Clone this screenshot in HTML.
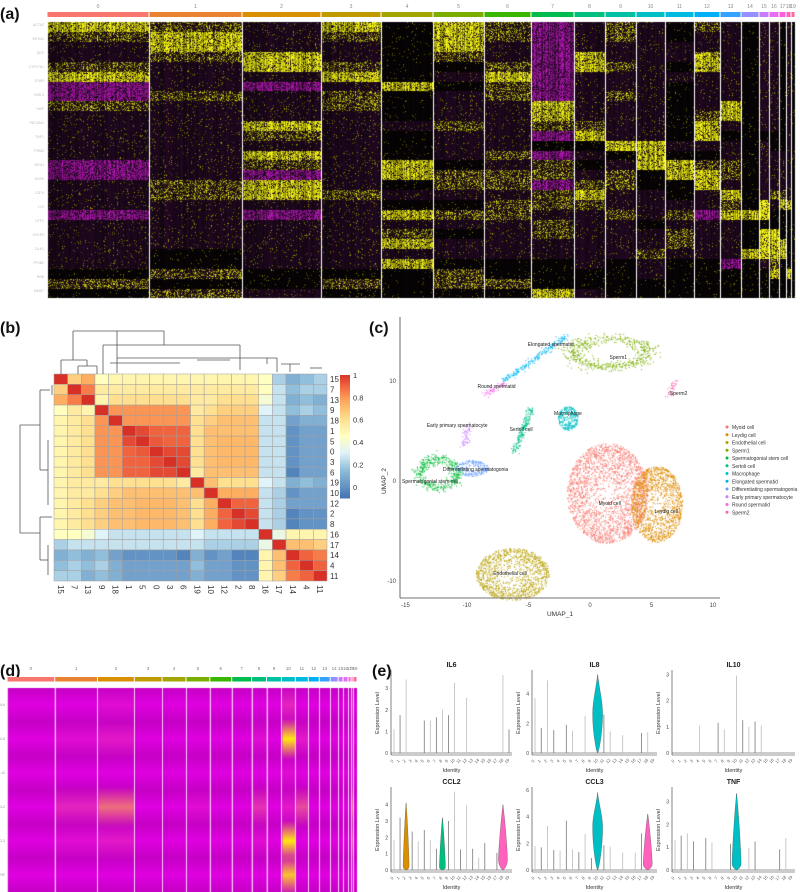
<!DOCTYPE html>
<html><head><meta charset="utf-8">
<style>
html,body{margin:0;padding:0;background:#fff;}
#root{position:relative;width:800px;height:892px;overflow:hidden;background:#fff;font-family:"Liberation Sans",sans-serif;}
canvas,svg{position:absolute;left:0;top:0;}
.lbl{font-weight:bold;font-size:16px;fill:#111;}
</style></head>
<body>
<div id="root">
<canvas id="cA" width="800" height="892"></canvas>
<svg id="sv" width="800" height="892"></svg>
</div>
<script>
// ---------- DATA ----------
const clusterIds = ['0','1','2','3','4','5','6','7','8','9','10','11','12','13','14','15','16','17','18','19'];
const hue20 = ['#F8766D','#EA8331','#D89000','#C09B00','#A3A500','#7CAE00','#39B600','#00BB4E','#00BF7D','#00C1A3','#00BFC4','#00BAE0','#00B0F6','#35A2FF','#9590FF','#C77CFF','#E76BF3','#FA62DB','#FF62BC','#FF6C91'];
const aClusterSizes = [102,93,79,60,52,51,47,43,31,31,29,29,26,21,18,10,10,7,5,4];
const aBands = [
"YoppoYmmopppppmmpppmpppppkok","oYYopppoppppppppoopppppkkoko","pppYYpmpppYopYomYYpmpppppkkp",
"YoppoYpooppppppppopppppppkok","kkkkkkYkkkpkkkYYkpkYpoYpYkkk","YYYokpkpppopppkoopkopkppkook",
"ooppoYoopppppopoopooppppkkok","mmmmmmmmYYomkmoomoopooppkkkY","pppYYpppppoYkpkpoYoppppppkkp",
"ooppoppoppppYkpooppoppppkkkk","ppppppppppppYYYkkpppkppoppkk","kkppkpkkkkkkpkYYkkpopoopkkkk",
"oppYYppppoYYpkoYYppmppppkkkk","ppppppppYYpkppoopYoYppppmkkk","kkkkkkkkkkkkkkkkkkkYkkkYkkkk",
"pppppppppppkppppppYYkYYYpkkk","pppppppppppkkppppopkkYYYoYkk","kkkkkkkkkkkkkppppoYkkkYYkkkk",
"ppppppppppppppppppYkkkkkkYkk","kkkkkkkkkkkkkkkkkkkkkkkkkkkk"];
const bOrder = ['15','7','13','9','18','1','5','0','3','6','19','10','12','2','8','16','17','14','4','11'];
const bMatrix = [
[1,.65,.75,.45,.5,.5,.5,.5,.5,.5,.5,.5,.5,.5,.5,.45,.2,.1,.15,.2],
[.65,1,.85,.55,.55,.55,.55,.55,.55,.55,.55,.55,.55,.55,.55,.45,.25,.15,.2,.2],
[.75,.85,1,.5,.6,.6,.6,.6,.6,.6,.55,.55,.6,.6,.6,.4,.25,.1,.15,.1],
[.45,.55,.5,1,.8,.8,.8,.8,.8,.8,.55,.6,.65,.65,.65,.3,.25,.15,.2,.15],
[.5,.55,.6,.8,1,.8,.8,.8,.8,.8,.6,.65,.7,.7,.7,.25,.25,.05,.1,.1],
[.5,.55,.6,.8,.8,1,.95,.9,.9,.9,.6,.7,.7,.7,.7,.25,.25,0,.05,.05],
[.5,.55,.6,.8,.8,.95,1,.92,.9,.9,.6,.7,.72,.72,.72,.25,.25,0,.05,.05],
[.5,.55,.6,.8,.8,.9,.92,1,.95,.95,.6,.7,.72,.72,.72,.25,.25,0,.05,.05],
[.5,.55,.6,.8,.8,.9,.9,.95,1,.95,.6,.7,.72,.72,.72,.25,.25,0,.05,.05],
[.5,.55,.6,.8,.8,.9,.9,.95,.95,1,.55,.7,.7,.7,.7,.25,.25,-.05,.05,.05],
[.5,.55,.55,.55,.6,.6,.6,.6,.6,.55,1,.7,.6,.6,.6,.3,.25,.1,.15,.1],
[.5,.55,.55,.6,.65,.7,.7,.7,.7,.7,.7,1,.75,.75,.75,.25,.2,0,.05,.05],
[.5,.55,.6,.65,.7,.7,.72,.72,.72,.7,.6,.75,1,.9,.9,.25,.2,.05,.05,.05],
[.5,.55,.6,.65,.7,.7,.72,.72,.72,.7,.6,.75,.9,1,.95,.25,.2,-.05,0,0],
[.5,.55,.6,.65,.7,.7,.72,.72,.72,.7,.6,.75,.9,.95,1,.25,.2,-.05,0,0],
[.45,.45,.4,.3,.25,.25,.25,.25,.25,.25,.3,.25,.25,.25,.25,1,.35,.5,.5,.5],
[.2,.25,.25,.25,.25,.25,.25,.25,.25,.25,.25,.2,.2,.2,.2,.35,1,.7,.7,.65],
[.1,.15,.1,.15,.05,0,0,0,0,-.05,.1,0,.05,-.05,-.05,.5,.7,1,.9,.85],
[.15,.2,.15,.2,.1,.05,.05,.05,.05,.05,.15,.05,.05,0,0,.5,.7,.9,1,.9],
[.2,.2,.1,.15,.1,.05,.05,.05,.05,.05,.1,.05,.05,0,0,.5,.65,.85,.9,1]];
const bTicks = [0,0.2,0.4,0.6,0.8,1];
const cNames = ['Myoid cell','Leydig cell','Endothelial cell','Sperm1','Spermatogonial stem cell','Sertoli cell','Macrophage','Elongated spermatid','Differentiating spermatogonia','Early primary spermatocyte','Round spermatid','Sperm2'];
const cColors = ['#F8766D','#DE8C00','#B79F00','#7CAE00','#00BA38','#00C08B','#00BFC4','#00B4F0','#619CFF','#C77CFF','#F564E3','#FF64B0'];
const cShape = ['blob','blob','blob','ring','ring','line','blob','line','blob','line','line','line'];
const cX = [1.4,5.4,-6.3,1.6,-12.4,-6.2,-1.8,-7,-9.6,-10.3,-8.5,6.4];
const cY = [-1.2,-2.3,-9.3,12.9,0.8,3,6.3,10.1,1.3,3.5,8.7,8.5];
const cA = [3.3,2.1,3,3.6,1.8,-4.8,0.8,-2,1.3,-9.9,-7,6.9];
const cB = [5,3.8,2.6,1.7,1.7,7.3,1.2,14.5,0.8,5.8,9.8,10];
const cCount = [2200,1300,1100,600,450,200,280,220,200,60,60,40];
const cLabelX = [1.6,6.2,-6.5,2.3,-13,-5.6,-1.8,-3.2,-9.3,-10.8,-7.6,7.2];
const cLabelY = [-2.4,-3.2,-9.4,12.2,-0.2,5,6.6,13.5,1,5.4,9.3,8.6];
const cXTicks = [-15,-10,-5,0,5,10];
const cYTicks = [-10,0,10];
const dGenes = ['IL6','IL8','IL10','CCL2','CCL3','TNF'];
const dSizes = [48,43,37,28,24,24,22,20,15,15,14,13,11,11,8,5,5,3,2,4];
const dMeans = [
[0,0,.05,0,0,0,0,0,0,0,.15,0,0,0,0,0,0,0,.1,0],
[0,.05,.1,0,0,0,0,0,.05,0,.95,.1,0,0,0,0,0,0,0,0],
[0,0,0,0,0,0,0,0,0,0,.05,0,0,0,0,0,0,0,0,0],
[0,.15,.45,0,0,.05,0,0,.2,0,.1,.3,0,0,0,0,0,0,.4,0],
[0,.05,.1,0,0,0,0,0,.05,0,.95,0,0,0,0,0,0,0,.3,0],
[0,0,0,0,0,0,0,0,0,0,.8,0,0,0,0,0,0,0,0,0]];
const eGenes = ['IL6','IL8','IL10','CCL2','CCL3','TNF'];
const eMax = [
[1.1,1.75,3.4,0,0,1.5,1.5,1.65,2,1.75,3.25,0,2.55,0,0,0,0,0,3.6,1.1],
[3.7,1.7,4.9,1.55,0,1.9,1.5,0,2.5,0,5.3,2.6,1.45,0,1.2,0,0,1.35,1.4,0],
[0,0,0,0,1.05,0,0,1.15,0.9,0,2.95,1.25,1.0,1.2,1.05,0,0,0,0,0],
[1.85,3.2,4.1,2.35,1.75,2.45,1.85,1.3,3.2,3.0,4.8,1.25,3.95,1.3,0.75,1.65,0,1.05,4.0,0],
[1.8,1.7,3.3,1.5,1.45,3.7,1.55,1.35,2.7,0.9,5.8,1.85,1.75,0,1.3,0,1.3,2.75,4.2,0],
[1.3,1.5,1.6,1.25,0,1.4,1.2,0,0,1.15,3.35,0,0.95,1.25,0,0,0,0.9,1.4,0]];
const eViolinGene = [1,4,4,3,3,3,5];
const eViolinCluster = [10,10,18,2,8,18,10];
const eViolinWidth = [5,5,4.5,3,3,4.5,4.5];
const eViolinPeak = [0.5,0.55,0.1,0.05,0.05,0.15,0.08];
const eTicks = [[0,1,2,3],[0,2,4],[0,1,2,3],[0,1,2,3,4],[0,2,4,6],[0,1,2,3]];
const eScale = [3.7,5.4,3.05,4.9,6,3.5];

const NS='http://www.w3.org/2000/svg';
const sv=document.getElementById('sv');
function mk(tag,attrs,parent){const e=document.createElementNS(NS,tag);for(const k in attrs)e.setAttribute(k,attrs[k]);(parent||sv).appendChild(e);return e;}
function txt(x,y,s,attrs,parent){const e=mk('text',Object.assign({x:x,y:y,'font-family':'Liberation Sans, sans-serif'},attrs||{}),parent);e.textContent=s;return e;}
let seed=12345;function rnd(){seed|=0;seed=seed+0x6D2B79F5|0;let t=Math.imul(seed^seed>>>15,1|seed);t=t+Math.imul(t^t>>>7,61|t)^t;return((t^t>>>14)>>>0)/4294967296;}
function gauss(){return Math.sqrt(-2*Math.log(rnd()+1e-9))*Math.cos(2*Math.PI*rnd());}
const ctx=document.getElementById('cA').getContext('2d');

let t;
t=txt(0,19,'(a)',{class:'lbl'});
t=txt(0,333,'(b)',{class:'lbl'});
t=txt(369,333,'(c)',{class:'lbl'});
t=txt(0,676,'(d)',{class:'lbl'});
t=txt(372,676,'(e)',{class:'lbl'});

// ---------- panel a ----------
(function(){
  const x0=47,x1=795,y0=22,y1=298;
  const tot=aClusterSizes.reduce((a,b)=>a+b,0);
  const W=x1-x0;
  const img=ctx.createImageData(W,y1-y0);
  const bandH=(y1-y0)/28;
  let acc=0;const bounds=[];
  for(let c=0;c<20;c++){const s=Math.round(x0+acc/tot*W);acc+=aClusterSizes[c];const e=Math.round(x0+acc/tot*W);bounds.push([s,e]);}
  const Yc=[225,225,20],Dk=[30,8,30],Mg=[150,20,150];
  for(let c=0;c<20;c++){
    const [s,e]=bounds[c];
    for(let x=s;x<e;x++){
      const colN=rnd()*0.6+0.6;
      for(let y=y0;y<y1;y++){
        const b=Math.min(27,Math.floor((y-y0)/bandH));
        const ch=aBands[c][b]||'p';
        let col,f=colN*(0.75+rnd()*0.4);
        const r=rnd();
        if(ch==='Y'){col=r<0.72?Yc:(r<0.85?[120,110,15]:Dk);}
        else if(ch==='o'){col=r<0.28?[190,190,20]:(r<0.55?[70,60,10]:Dk);}
        else if(ch==='m'){col=r<0.75?Mg:Dk;}
        else if(ch==='k'){col=r<0.03?[120,120,0]:[8,4,6];}
        else {col=r<0.05?[130,130,0]:Dk;}
        const i=((y-y0)*W+(x-x0))*4;
        img.data[i]=Math.min(255,col[0]*f);img.data[i+1]=Math.min(255,col[1]*f);img.data[i+2]=Math.min(255,col[2]*f);img.data[i+3]=255;
      }
    }
  }
  ctx.putImageData(img,x0,y0);
  const g=mk('g',{});
  bounds.forEach((b,c)=>{
    ctx.fillStyle='#fff';ctx.fillRect(b[0],y0,1,y1-y0);
    const r=mk('rect',{x:b[0]+0.5,y:12,width:Math.max(1,b[1]-b[0]-1),height:5,fill:hue20[c]},g);
    
    const l=txt((b[0]+b[1])/2,8,clusterIds[c],{'font-size':5,fill:'#888','text-anchor':'middle'},g);
    
  });
  const gl=mk('g',{});
  const genes=['ACTA2','MYH11','DES','CYP17A1','STAR','INSL3','VWF','PECAM1','TNP1','PRM2','DDX4','SOX9','CD74','LYZ','UTF1','SYCP3','DLK1','TPSB2','HBB','MKI67'];
  for(let i=0;i<genes.length;i++){txt(44,26+i*14,genes[i],{'font-size':3.5,fill:'#bbb','text-anchor':'end'},gl);}
})();

// ---------- panel b ----------
function cmapB(v){
  const stops=[[-0.1,[69,117,180]],[0.15,[145,191,219]],[0.3,[224,243,248]],[0.45,[255,255,191]],[0.6,[254,224,144]],[0.75,[253,174,97]],[0.88,[244,109,67]],[1,[215,48,39]]];
  for(let i=1;i<stops.length;i++){if(v<=stops[i][0]){const a=stops[i-1],b=stops[i];const f=(v-a[0])/(b[0]-a[0]);return 'rgb('+a[1].map((c,j)=>Math.round(c+(b[1][j]-c)*f)).join(',')+')';}}
  return 'rgb(215,48,39)';
}
(function(){
  const x0=54,y0=374,cw=13.65,ch=10.35;
  const g=mk('g',{});
  const xs=i=>x0+i*cw, ys=i=>y0+i*ch;
  for(let r=0;r<20;r++)for(let c=0;c<20;c++){
    const e=mk('rect',{x:xs(c),y:ys(r),width:cw,height:ch,fill:cmapB(bMatrix[r][c]),stroke:'#a0a0a0','stroke-width':0.5},g);
    
  }
  for(let i=0;i<20;i++){
    const a=txt(xs(20)+3,ys(i)+ch/2+3,bOrder[i],{'font-size':8,fill:'#333'},g);
    const bx=xs(i)+cw/2-3,by=ys(20)+4;
    const b=txt(bx,by,bOrder[i],{'font-size':8,fill:'#333',transform:'rotate(90 '+bx+' '+by+')'},g);
  }
  const d=mk('g',{stroke:'#555','stroke-width':0.8,fill:'none'});
  const top=[[117,373,117,358],[117,358,277,358],[277,358,277,372],[117,331,117,358],[73,331,164,331],[73,331,73,360],[164,331,164,345],[61,360,87,360],[61,360,61,374],[87,360,87,366],[78,366,97,366],[78,366,78,374],[97,366,97,374],[164,345,103,345],[164,345,240,345],[103,345,103,374],[240,345,240,370],[110,363,180,363],[197,360,230,360],[267,358,267,364],[281,364,300,364],[290,364,290,372],[310,368,322,368]];
  top.forEach(s=>mk('line',{x1:s[0],y1:s[1],x2:s[2],y2:s[3]},d));
  const lefts=[[20,425,20,533],[20,425,40,425],[20,533,40,533],[40,390,40,470],[40,390,50,390],[40,470,48,470],[48,440,48,505],[40,517,40,560],[40,517,52,517],[40,560,48,560],[48,545,48,575],[52,385,52,395]];
  lefts.forEach(s=>mk('line',{x1:s[0],y1:s[1],x2:s[2],y2:s[3]},d));
  const cb=mk('g',{});
  const cbTop=375,cbBot=498,vmin=-0.1,vmax=1;
  const cy=v=>cbBot-(v-vmin)/(vmax-vmin)*(cbBot-cbTop);
  for(let i=0;i<60;i++){const v=vmin+(vmax-vmin)*i/60;mk('rect',{x:340,y:cy(v+(vmax-vmin)/60),width:10,height:(cbBot-cbTop)/60+0.5,fill:cmapB(v)},cb);}
  bTicks.forEach(v=>{const e=txt(353,cy(v)+3,String(v),{'font-size':7.5,fill:'#333'},cb);});
})();

// ---------- panel c ----------
(function(){
  const px=x=>590+x*12.3, py=y=>481-y*10;
  for(let k=0;k<cNames.length;k++){
    ctx.fillStyle=cColors[k];
    for(let n=0;n<cCount[k];n++){
      let x,y;
      if(cShape[k]==='blob'){const a=rnd()*2*Math.PI,r=Math.pow(rnd(),0.35);x=cX[k]+cA[k]*r*Math.cos(a);y=cY[k]+cB[k]*r*Math.sin(a);}
      else if(cShape[k]==='ring'){const a=rnd()*2*Math.PI,r=0.85+0.15*gauss();x=cX[k]+cA[k]*r*Math.cos(a);y=cY[k]+cB[k]*r*Math.sin(a);}
      else{const f=rnd();x=cX[k]+(cA[k]-cX[k])*f+gauss()*0.15;y=cY[k]+(cB[k]-cY[k])*f+gauss()*0.15;}
      ctx.fillRect(px(x),py(y),1,1);
    }
  }
  const g=mk('g',{});
  const ya=mk('line',{x1:400,y1:317,x2:400,y2:598,stroke:'#444','stroke-width':0.8},g);
  const xa=mk('line',{x1:400,y1:598,x2:720,y2:598,stroke:'#444','stroke-width':0.8},g);
  cYTicks.forEach(v=>{const e=txt(396,py(v)+2,String(v),{'font-size':6,fill:'#444','text-anchor':'end'},g);});
  cXTicks.forEach(v=>{const e=txt(px(v),607,String(v),{'font-size':6,fill:'#444','text-anchor':'middle'},g);});
  let e=txt(560,616,'UMAP_1',{'font-size':6.5,fill:'#333','text-anchor':'middle'},g);
  e=txt(386,481,'UMAP_2',{'font-size':6.5,fill:'#333','text-anchor':'middle',transform:'rotate(-90 386 481)'},g);
  for(let k=0;k<cNames.length;k++){
    const l=txt(px(cLabelX[k]),py(cLabelY[k]),cNames[k],{'font-size':5,fill:'#222','text-anchor':'middle'},g);
    const le=mk('g',{},g);
    mk('circle',{cx:727,cy:427+k*7.75,r:1.5,fill:cColors[k]},le);
    txt(732,429+k*7.75,cNames[k],{'font-size':5,fill:'#333'},le);
  }
})();

// ---------- panel d ----------
(function(){
  const x0=7,x1=357,y0=688,y1=892,rowH=(y1-y0)/6;
  const tot=dSizes.reduce((a,b)=>a+b,0);
  let acc=0;const b=[];
  for(let c=0;c<20;c++){const s=x0+acc/tot*(x1-x0);acc+=dSizes[c];b.push([s,x0+acc/tot*(x1-x0)]);}
  const g=mk('g',{});
  for(let c=0;c<20;c++){
    const [s,e]=b[c];
    for(let r=0;r<6;r++){
      const gr=ctx.createLinearGradient(0,y0+r*rowH,0,y0+(r+1)*rowH);
      gr.addColorStop(0,'#c600c6');gr.addColorStop(0.5,'#e000e0');gr.addColorStop(1,'#c600c6');
      ctx.fillStyle=gr;ctx.fillRect(s,y0+r*rowH,e-s,rowH);
    }
    for(let r=0;r<6;r++){
      const v=dMeans[r][c];if(v<=0)continue;
      const cy=y0+(r+0.5)*rowH;
      const gr=ctx.createLinearGradient(0,cy-rowH*0.6,0,cy+rowH*0.6);
      gr.addColorStop(0,'rgba(255,245,0,0)');gr.addColorStop(0.5,'rgba(255,245,0,'+v+')');gr.addColorStop(1,'rgba(255,245,0,0)');
      ctx.fillStyle=gr;ctx.fillRect(s+1,cy-rowH*0.6,e-s-1,rowH*1.2);
    }
    ctx.fillStyle='#f4d0f4';ctx.fillRect(Math.round(s),y0,1,y1-y0);
    const r=mk('rect',{x:s+0.5,y:677,width:Math.max(1,e-s-1),height:4.5,fill:hue20[c]},g);
    const l=txt((s+e)/2,670,clusterIds[c],{'font-size':4.5,fill:'#777','text-anchor':'middle'},g);
  }
  dGenes.forEach((n,r)=>{const l=txt(5,y0+(r+0.5)*rowH+1,n,{'font-size':3.5,fill:'#999','text-anchor':'end'},g);});
})();

// ---------- panel e ----------
(function(){
  const cols=[[391,512],[532,657],[672,795]];
  const rows=[[673,753],[790,870]];
  for(let p=0;p<6;p++){
    const [x0,x1]=cols[p%3],[yt,yb]=rows[Math.floor(p/3)];
    const g=mk('g',{});
    const sy=v=>yb-v/eScale[p]*(yb-yt);
    const sx=i=>x0+3+i*(x1-x0-6)/19;
    let e=txt((x0+x1)/2,yt-6,eGenes[p],{'font-size':7,'font-weight':'bold',fill:'#222','text-anchor':'middle'},g);
    e=mk('line',{x1:x0,y1:yt-3,x2:x0,y2:yb+2,stroke:'#333','stroke-width':0.6},g);
    e=mk('line',{x1:x0,y1:yb+2,x2:x1,y2:yb+2,stroke:'#333','stroke-width':0.6},g);
    eTicks[p].forEach(v=>{const tt=txt(x0-3,sy(v)+2,String(v),{'font-size':5,fill:'#444','text-anchor':'end'},g);});
    const ym=(yt+yb)/2;
    e=txt(x0-12,ym,'Expression Level',{'font-size':5.5,fill:'#333','text-anchor':'middle',transform:'rotate(-90 '+(x0-12)+' '+ym+')'},g);
    e=txt((x0+x1)/2,yb+19,'Identity',{'font-size':5.5,fill:'#333','text-anchor':'middle'},g);
    mk('line',{x1:x0,y1:yb,x2:x1,y2:yb,stroke:'#333','stroke-width':0.5},g);
    for(let i=0;i<20;i++){
      const v=eMax[p][i];
      if(v>0){const l=mk('line',{x1:sx(i),y1:yb,x2:sx(i),y2:sy(v),stroke:(i%2?'#777':'#bbb'),'stroke-width':0.8},g);}
      const tx=sx(i)-1,ty=yb+9;
      const tl=txt(tx,ty,clusterIds[i],{'font-size':4.2,fill:'#555','text-anchor':'middle',transform:'rotate(-45 '+tx+' '+ty+')'},g);
    }
    for(let k=0;k<eViolinGene.length;k++){
      if(eViolinGene[k]!==p)continue;
      const c=eViolinCluster[k],w=eViolinWidth[k],pk=eViolinPeak[k];
      const cx=sx(c),top=sy(eMax[p][c]),h=yb-top,my=yb-pk*h;
      const d='M'+cx+','+top+' C'+(cx+w*0.4)+','+(top+h*0.2)+' '+(cx+w)+','+(my-h*0.15)+' '+(cx+w)+','+my+' C'+(cx+w)+','+(my+(yb-my)*0.5)+' '+(cx+1)+','+yb+' '+cx+','+yb+' C'+(cx-1)+','+yb+' '+(cx-w)+','+(my+(yb-my)*0.5)+' '+(cx-w)+','+my+' C'+(cx-w)+','+(my-h*0.15)+' '+(cx-w*0.4)+','+(top+h*0.2)+' '+cx+','+top+'Z';
      const vp=mk('path',{d:d,fill:hue20[c],stroke:'#444','stroke-width':0.3},g);
    }
  }
})();
</script>
</body></html>
